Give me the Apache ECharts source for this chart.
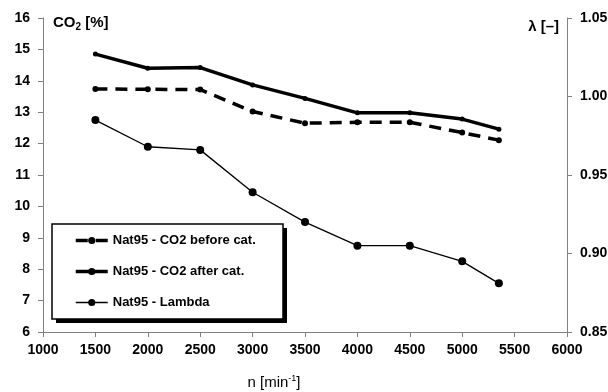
<!DOCTYPE html>
<html lang="en">
<head>
    <meta charset="UTF-8">
    <title>CO2 and Lambda</title>
    <script src="https://cdn.jsdelivr.net/npm/echarts@6/dist/echarts.min.js"></script>
    <style>
        html, body { margin: 0; padding: 0; background: #fff; }
        #main { width: 608px; height: 392px; }
    </style>
</head>
<body>
<div id="main"></div>
<script type="text/javascript">
    // engine speed, min^-1
    var speeds = [1500, 2000, 2500, 3000, 3500, 4000, 4500, 5000, 5350];
    // CO2 [%] before / after catalyst
    var co2Before = [13.74, 13.73, 13.72, 13.02, 12.65, 12.68, 12.68, 12.35, 12.11];
    var co2After = [14.85, 14.40, 14.42, 13.87, 13.44, 12.98, 12.98, 12.78, 12.46];
    // lambda [-]
    var lambda = [0.985, 0.968, 0.966, 0.939, 0.920, 0.905, 0.905, 0.895, 0.881];

    var seriesNames = ['Nat95 - CO2 before cat.', 'Nat95 - CO2 after cat.', 'Nat95 - Lambda'];

    function pairs(xs, ys) {
        return xs.map(function (x, i) { return [x, ys[i]]; });
    }

    var font = 'Liberation Sans, Arial, sans-serif';
    var axisGray = '#808080';
    var dash = [12, 8];

    var myChart = echarts.init(document.getElementById('main'));

    var option = {
        backgroundColor: '#fff',
        animation: false,
        grid: { left: 43, right: 41, top: 18, bottom: 60, outerBoundsMode: 'none', containLabel: false },
        // legend frame with hard shadow
        graphic: [
            { type: 'rect', z: 1, shape: { x: 56, y: 228, width: 231, height: 95 }, style: { fill: '#000' } },
            { type: 'rect', z: 1, shape: { x: 52, y: 224, width: 231, height: 95 }, style: { fill: '#fff', stroke: '#000', lineWidth: 1.5 } }
        ],
        legend: {
            orient: 'vertical',
            left: 52,
            top: 224,
            z: 5,
            data: [
                { name: seriesNames[0], lineStyle: { width: 3.5, type: dash } },
                { name: seriesNames[1], lineStyle: { width: 3.5 } },
                { name: seriesNames[2], lineStyle: { width: 1.3 } }
            ],
            itemWidth: 32,
            itemHeight: 9,
            itemGap: 18,
            padding: [10, 0, 0, 22],
            textStyle: { fontFamily: font, fontWeight: 'bold', fontSize: 13, color: '#000' }
        },
        xAxis: {
            type: 'value',
            min: 1000,
            max: 6000,
            interval: 500,
            name: '{a|n [min}{s|-1}{a|]}',
            nameLocation: 'middle',
            nameGap: 42,
            nameTextStyle: {
                padding: [0, 62, 0, 0],
                rich: {
                    a: { fontFamily: font, fontSize: 15, color: '#000' },
                    s: { fontFamily: font, fontSize: 9, color: '#000', padding: [0, 0, 9, 0] }
                }
            },
            splitLine: { show: false },
            axisLine: { lineStyle: { color: axisGray, width: 1 } },
            axisTick: { length: 5, lineStyle: { color: axisGray } },
            axisLabel: {
                margin: 11, fontFamily: font, fontWeight: 'bold', fontSize: 14, color: '#000',
                formatter: function (v) { return String(v); }
            }
        },
        yAxis: [
            {
                type: 'value',
                min: 6,
                max: 16,
                interval: 1,
                name: '{a|CO}{s|2}{a| [%]}',
                nameLocation: 'end',
                nameGap: -5,
                nameTextStyle: {
                    align: 'left',
                    verticalAlign: 'middle',
                    padding: [0, 0, 0, 10],
                    rich: {
                        a: { fontFamily: font, fontWeight: 'bold', fontSize: 15, color: '#000' },
                        s: { fontFamily: font, fontWeight: 'bold', fontSize: 10, color: '#000', padding: [8, 0, 0, 0] }
                    }
                },
                splitLine: { show: false },
                axisLine: { show: true, lineStyle: { color: axisGray, width: 1 } },
                axisTick: { show: true, length: 5, lineStyle: { color: axisGray } },
                axisLabel: { margin: 13, fontFamily: font, fontWeight: 'bold', fontSize: 14, color: '#000' }
            },
            {
                type: 'value',
                min: 0.85,
                max: 1.05,
                interval: 0.05,
                position: 'right',
                name: 'λ [–]',
                nameLocation: 'end',
                nameGap: -9,
                nameTextStyle: {
                    align: 'right',
                    verticalAlign: 'middle',
                    padding: [0, 8, 0, 0],
                    fontFamily: font, fontWeight: 'bold', fontSize: 15, color: '#000'
                },
                splitLine: { show: false },
                axisLine: { show: true, lineStyle: { color: axisGray, width: 1 } },
                axisTick: { show: true, length: 5, lineStyle: { color: axisGray } },
                axisLabel: {
                    margin: 13, fontFamily: font, fontWeight: 'bold', fontSize: 14, color: '#000',
                    formatter: function (v) { return v.toFixed(2); }
                }
            }
        ],
        series: [
            {
                name: seriesNames[0],
                type: 'line',
                yAxisIndex: 0,
                data: pairs(speeds, co2Before),
                symbol: 'circle',
                symbolSize: 6,
                itemStyle: { color: '#000' },
                lineStyle: { color: '#000', width: 3.5, type: dash }
            },
            {
                name: seriesNames[1],
                type: 'line',
                yAxisIndex: 0,
                data: pairs(speeds, co2After),
                symbol: 'circle',
                symbolSize: 5,
                itemStyle: { color: '#000' },
                lineStyle: { color: '#000', width: 3.5 }
            },
            {
                name: seriesNames[2],
                type: 'line',
                yAxisIndex: 1,
                data: pairs(speeds, lambda),
                symbol: 'circle',
                symbolSize: 8,
                itemStyle: { color: '#000' },
                lineStyle: { color: '#000', width: 1.3 }
            }
        ]
    };

    myChart.setOption(option);
</script>
</body>
</html>
